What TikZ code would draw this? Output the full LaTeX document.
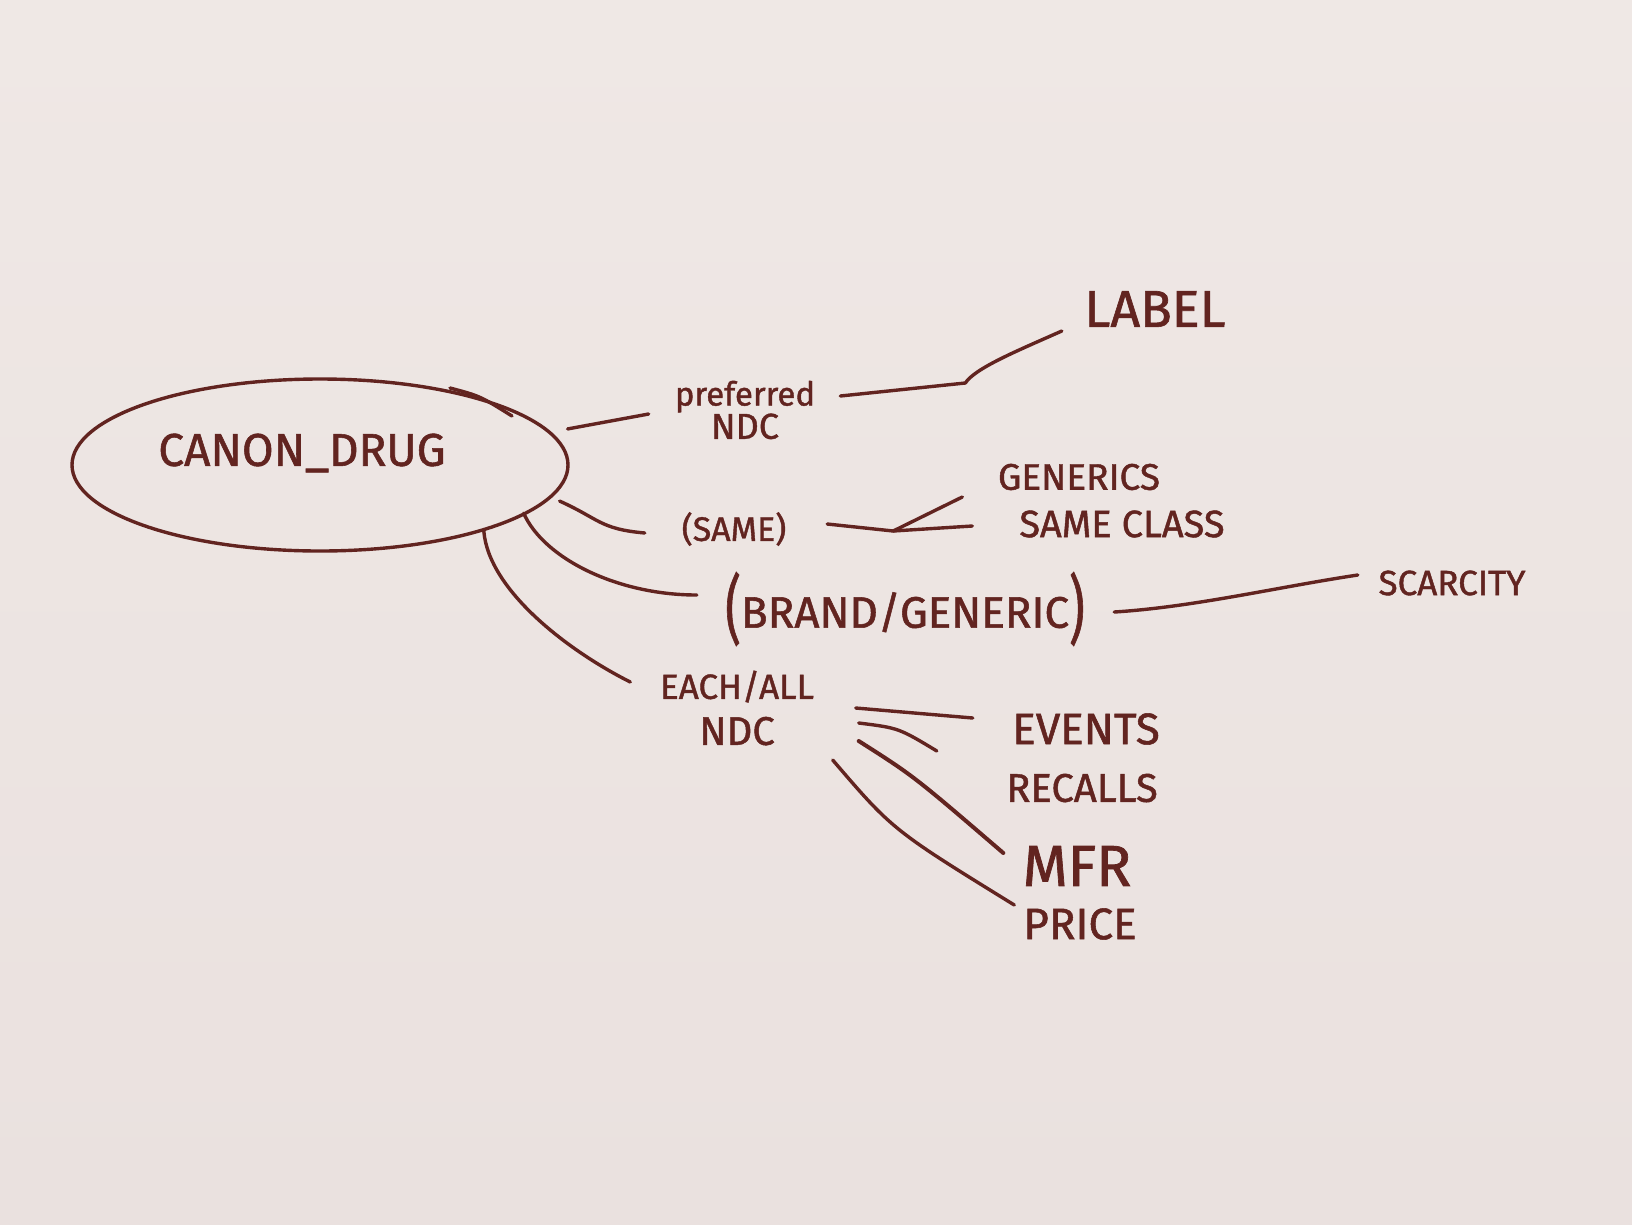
\documentclass[tikz,border=0pt]{standalone}
\usepackage{fontspec}
\setmainfont{Fira Sans}[FakeBold=1.2]
\usetikzlibrary{calc,shapes.geometric}
\definecolor{boardtop}{RGB}{239,232,229}
\definecolor{boardbot}{RGB}{234,225,223}
\definecolor{ink}{RGB}{98,36,32}
\newcommand{\bigparen}[1]{\raisebox{-0.17em}{\scalebox{1.1}[1.7]{#1}}}
\begin{document}
\begin{tikzpicture}[x=1pt,y=-1pt,
  ink/.style={draw=ink, line width=3.4pt, line cap=round, line join=round},
  txt/.style={text=ink, inner sep=0pt, anchor=center},
  fs/.style={font=\fontsize{#1}{#1}\selectfont}]
\shade[top color=boardtop, bottom color=boardbot] (0,0) rectangle (1632,1224);
\useasboundingbox (0,0) rectangle (1632,1224);

% main entity
\node[ink, ellipse, minimum width=496pt, minimum height=172pt, inner sep=0pt] (ell) at (320,465) {};
\draw[ink] (450,388) .. controls (480,396) .. (512,416);
\node[txt, fs=46, minimum width=307pt] (canon) at (302,453) {CANON\_DRUG};

% labels
\node[txt, align=center, minimum width=137pt, font=\fontsize{33}{25}\selectfont] (pref) at (745,410) {preferred\\{\fontsize{36}{25}\selectfont NDC}};
\node[txt, fs=52, minimum width=146pt] (label) at (1155,309) {LABEL};
\node[txt, fs=34, minimum width=130pt] (same) at (734,529) {(SAME)};
\node[txt, fs=37, minimum width=177pt] (gen) at (1079,477) {GENERICS};
\node[txt, fs=38, minimum width=237pt] (sameclass) at (1122,524) {SAME CLASS};
\node[txt, fs=44, minimum width=400pt] (brand) at (905,609) {\bigparen{(}BRAND/GENERIC\bigparen{)}};
\node[txt, fs=35, minimum width=154pt] (scar) at (1452,583) {SCARCITY};
\node[txt, align=center, minimum width=177pt, font=\fontsize{35}{46}\selectfont] (each) at (737,708) {EACH/ALL\\{\fontsize{40}{46}\selectfont NDC}};
\node[txt, fs=44, minimum width=156pt] (events) at (1086,729) {EVENTS};
\node[txt, fs=40, minimum width=164pt] (recalls) at (1082,788) {RECALLS};
\node[txt, fs=58, minimum width=127pt] (mfr) at (1077,866) {MFR};
\node[txt, fs=44, minimum width=117pt] (price) at (1080,924) {PRICE};

% connectors
\draw[ink] ($(ell.9)+(20,0)$) -- ($(pref.west)+(-26,4)$);
\draw[ink] ($(pref.east)+(25,-14)$) -- ++(125,-13)
  .. controls +(10,-15) and +(-45,20) .. ($(label.west)+(-20,22)$);
\draw[ink] ($(ell.-9)+(12,0)$) .. controls +(40,18) and +(-45,-4) .. ($(same.west)+(-24,4)$);
\coordinate (fork) at ($(same.east)+(94,2)$);
\draw[ink] ($(same.east)+(28,-5)$) -- (fork);
\draw[ink] (fork) -- ($(gen.west)+(-28,20)$);
\draw[ink] (fork) -- ($(sameclass.west)+(-31,2)$);
\draw[ink] ($(ell.-13)+(-5,0)$) .. controls +(20,45) and +(-80,0) .. ($(brand.west)+(-8,-14)$);
\draw[ink] ($(brand.east)+(9,3)$) .. controls +(80,-5) and +(-80,12) .. ($(scar.west)+(-17,-8)$);
\draw[ink] (ell.-22) .. controls +(5,60) and +(-60,-30) .. ($(each.west)+(-18,-26)$);
\draw[ink] ($(each.east)+(30,0)$) -- ($(events.west)+(-35,-11)$);
\draw[ink] ($(each.east)+(33,15)$) .. controls +(40,5) .. ($(recalls.west)+(-63,-37)$);
\draw[ink, line width=4pt] ($(each.east)+(33,33)$) .. controls +(55,35) .. ($(mfr.west)+(-10,-13)$);
\draw[ink] ($(each.east)+(7,52)$) .. controls +(60,70) .. ($(price.west)+(-7,-19)$);
\end{tikzpicture}
\end{document}
